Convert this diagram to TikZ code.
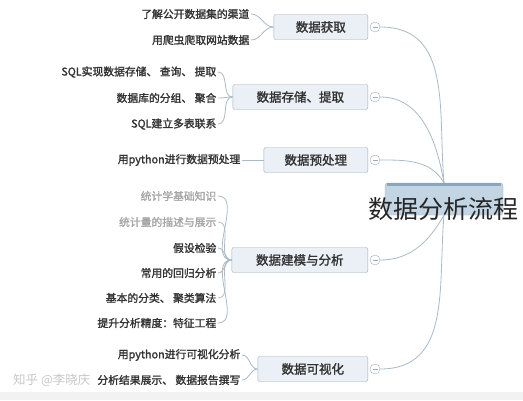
\documentclass[tikz,border=0pt]{standalone}
\usepackage{fontspec}
\usepackage{xcolor}
\usepackage{tikz}
\newfontfamily\cjk{Noto Sans CJK SC}
\newfontfamily\cjkbold{Noto Sans CJK SC}[FakeBold=1.6]
\definecolor{boxfill}{HTML}{EAF0F5}
\definecolor{boxline}{HTML}{9DAEBC}
\definecolor{linkcol}{HTML}{A9BAC8}
\definecolor{leafcol}{HTML}{333333}
\definecolor{rootfill}{HTML}{C3D5E3}
\definecolor{roottop}{HTML}{88A6BD}
\newcommand{\dun}{、\hspace{2.5pt}}

\begin{document}
\begin{tikzpicture}[x=1pt, y=-1pt,
  branch/.style={draw=boxline, fill=boxfill, rounded corners=2pt, minimum height=25pt,
    anchor=east, inner sep=0pt, font=\cjkbold\fontsize{12.5}{14}\selectfont, text=leafcol},
  leaf/.style={anchor=east, inner sep=1.5pt, font=\cjkbold\fontsize{10.8}{12}\selectfont, text=leafcol},
  faded/.style={leaf, text=black!35},
  fold/.style={circle, draw=boxline, fill=white, minimum size=10pt, inner sep=0pt},
  link/.style={draw=linkcol, line width=0.8pt}]
\useasboundingbox (0,0) rectangle (523,400);
\fill[white] (0,0) rectangle (523,400);
\fill[black!5] (0,392) rectangle (523,400);

% root
\node[draw=boxline, rounded corners=3pt, fill=rootfill,
  minimum width=118pt, minimum height=32pt, inner sep=0pt] (root) at (444,199) {};
\draw[roottop, line width=3pt] ([xshift=2pt,yshift=-1.8pt]root.north west) -- ([xshift=-2pt,yshift=-1.8pt]root.north east);

% main branches
\node[branch, minimum width=94pt] (get) at (368,27) {数据获取};
\node[branch, minimum width=135pt] (store) at (368,97) {数据存储、提取};
\node[branch, minimum width=104pt] (prep) at (368,160) {数据预处理};
\node[branch, minimum width=136pt] (model) at (368,260) {数据建模与分析};
\node[branch, minimum width=110pt] (vis) at (368,369) {数据可视化};

\foreach \n in {get,store,prep,model,vis} {
  \node[fold] (f\n) at ([xshift=7pt]\n.east) {};
  \draw[boxline, line width=0.6pt] ([xshift=-2.5pt]f\n.center) -- ([xshift=2.5pt]f\n.center);
}

\draw[link] (fget.east) to[out=0, in=95, looseness=1.1] (root.north);
\draw[link] (fstore.east) to[out=0, in=100] (root.north);
\draw[link] (fprep.east) to[out=0, in=120] (root.north);
\draw[link] (fmodel.east) to[out=0, in=-120] (root.south);
\draw[link] (fvis.east) to[out=0, in=-95, looseness=1.1] (root.south);

% leaves
\node[leaf] (g1) at (251,14) {了解公开数据集的渠道};
\node[leaf] (g2) at (251,40) {用爬虫爬取网站数据};

\node[leaf] (s1) at (218,72) {SQL实现数据存储\dun 查询\dun 提取};
\node[leaf] (s2) at (218,98) {数据库的分组\dun 聚合};
\node[leaf] (s3) at (218,124) {SQL建立多表联系};

\node[leaf] (p1) at (242,160) {用python进行数据预处理};

\node[faded] (m1) at (218,196) {统计学基础知识};
\node[faded] (m2) at (218,222) {统计量的描述与展示};
\node[leaf] (m3) at (218,248) {假设检验};
\node[leaf] (m4) at (218,273) {常用的回归分析};
\node[leaf] (m5) at (218,298) {基本的分类\dun 聚类算法};
\node[leaf] (m6) at (218,323) {提升分析精度：特征工程};

\node[leaf] (v1) at (242,355) {用python进行可视化分析};
\node[leaf] (v2) at (242,380) {分析结果展示\dun 数据报告撰写};

\foreach \l in {g1,g2} \draw[link] (get.west) to[out=180, in=0] (\l.east);
\foreach \l in {s1,s2,s3} \draw[link] (store.west) to[out=180, in=0] (\l.east);
\draw[link] (prep.west) -- (p1.east);
\foreach \l in {m1,m2,m3,m4,m5,m6} \draw[link] (model.west) to[out=180, in=0] (\l.east);
\foreach \l in {v1,v2} \draw[link] (vis.west) to[out=180, in=0] (\l.east);

% title over the root
\node[anchor=west, inner sep=0pt, font=\cjk\fontsize{25}{28}\selectfont, text=black!85] (title) at (368,209) {数据分析流程};

% watermark
\node[anchor=west, inner sep=0pt, font=\cjk\fontsize{12.5}{14}\selectfont, text=black!22] (mark) at (13,380) {知乎 @李晓庆};
\end{tikzpicture}
\end{document}
